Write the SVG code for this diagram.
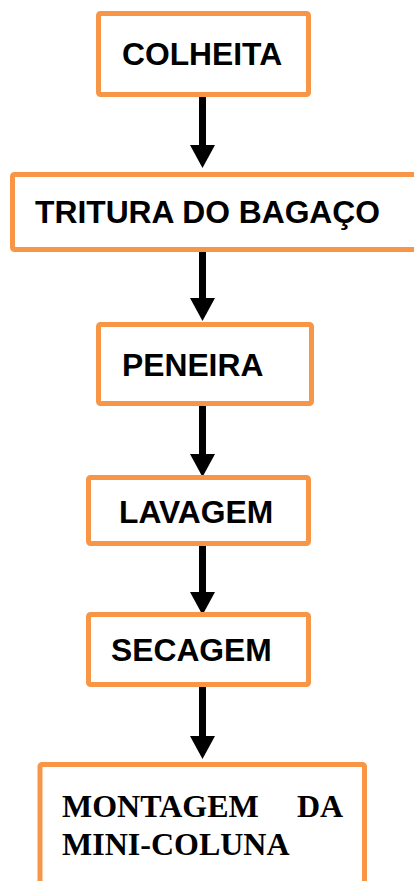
<svg xmlns="http://www.w3.org/2000/svg" width="414" height="881" viewBox="0 0 414 881">
<style>
.box{fill:#fff;stroke:#F79646;stroke-width:5}
.t{font-family:"Liberation Sans",Arial,sans-serif;font-weight:bold;font-size:31.8px;fill:#000}
.s{font-family:"Liberation Serif","Times New Roman",serif;font-weight:bold;font-size:32px;fill:#000}
.c{stroke:#000;stroke-width:7;fill:none;marker-end:url(#ah)}
</style>
<defs>
<marker id="ah" markerUnits="userSpaceOnUse" markerWidth="24" markerHeight="25" refX="0" refY="12.5" orient="auto" overflow="visible">
<path d="M0,0 L23,12.5 L0,25 Z" fill="#000"/>
</marker>
</defs>
<rect width="414" height="881" fill="#fff"/>
<g id="connectors">
<line class="c" x1="202.5" y1="96" x2="202.5" y2="145"/>
<line class="c" x1="202.5" y1="251" x2="202.5" y2="298"/>
<line class="c" x1="202.5" y1="405" x2="202.5" y2="454"/>
<line class="c" x1="202.5" y1="545" x2="202.5" y2="592"/>
<line class="c" x1="202.5" y1="686" x2="202.5" y2="736"/>
</g>
<g id="colheita">
<rect class="box" x="98.5" y="13.5" width="210" height="81" rx="2"/>
<text class="t" x="122" y="65">COLHEITA</text>
</g>
<g id="tritura">
<rect class="box" x="12.5" y="174.5" width="420" height="75" rx="2"/>
<text class="t" x="35" y="223">TRITURA DO BAGAÇO</text>
</g>
<g id="peneira">
<rect class="box" x="98.5" y="324.5" width="213" height="79" rx="2"/>
<text class="t" x="122" y="376">PENEIRA</text>
</g>
<g id="lavagem">
<rect class="box" x="88.5" y="477.5" width="220" height="66" rx="2"/>
<text class="t" x="119" y="523">LAVAGEM</text>
</g>
<g id="secagem">
<rect class="box" x="88.5" y="614.5" width="220" height="70" rx="2"/>
<text class="t" x="111" y="661">SECAGEM</text>
</g>
<g id="montagem">
<rect class="box" x="40" y="764.5" width="324.5" height="140" rx="2"/>
<text class="s" x="62" y="817">MONTAGEM</text>
<text class="s" x="297" y="817">DA</text>
<text class="s" x="62" y="855">MINI-COLUNA</text>
</g>
</svg>
